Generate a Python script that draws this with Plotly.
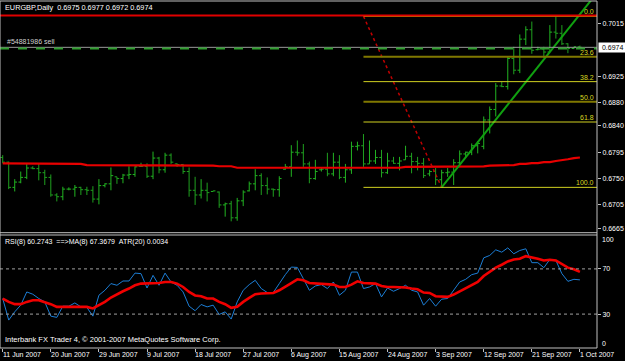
import plotly.graph_objects as go

# ---------------- data ----------------
date_labels = ["11 Jun 2007", "20 Jun 2007", "29 Jun 2007", "9 Jul 2007", "18 Jul 2007",
               "27 Jul 2007", "6 Aug 2007", "15 Aug 2007", "24 Aug 2007", "3 Sep 2007",
               "12 Sep 2007", "21 Sep 2007", "1 Oct 2007"]
date_label_bars = [0, 8, 16, 24, 32, 40, 48, 56, 64, 72, 80, 88, 96]

opens = [0.6786, 0.6778, 0.6735, 0.6744, 0.6752, 0.6768, 0.6767, 0.6760, 0.6752, 0.6722,
         0.6719, 0.6732, 0.6732, 0.6735, 0.6731, 0.6730, 0.6715, 0.6738, 0.6741, 0.6753,
         0.6750, 0.6756, 0.6757, 0.6771, 0.6771, 0.6754, 0.6785, 0.6765, 0.6790, 0.6775,
         0.6774, 0.6762, 0.6730, 0.6722, 0.6730, 0.6728, 0.6727, 0.6705, 0.6707, 0.6683,
         0.6712, 0.6729, 0.6741, 0.6755, 0.6738, 0.6732, 0.6731, 0.6766, 0.6770, 0.6795,
         0.6794, 0.6775, 0.6750, 0.6765, 0.6766, 0.6758, 0.6778, 0.6752, 0.6765, 0.6805,
         0.6806, 0.6775, 0.6780, 0.6786, 0.6760, 0.6780, 0.6776, 0.6782, 0.6788, 0.6779,
         0.6776, 0.6758, 0.6762, 0.6748, 0.6760, 0.6761, 0.6777, 0.6792, 0.6795, 0.6806,
         0.6805, 0.6850, 0.6868, 0.6908, 0.6907, 0.6955, 0.6935, 0.6988, 0.7004, 0.6970,
         0.6971, 0.6966, 0.7000, 0.6998, 0.6980, 0.6972, 0.6975]
highs = [0.6790, 0.6779, 0.6749, 0.6762, 0.6775, 0.6771, 0.6775, 0.6765, 0.6757, 0.6725,
         0.6736, 0.6735, 0.6739, 0.6736, 0.6736, 0.6737, 0.6749, 0.6742, 0.6769, 0.6753,
         0.6758, 0.6771, 0.6771, 0.6777, 0.6776, 0.6796, 0.6787, 0.6794, 0.6793, 0.6776,
         0.6775, 0.6769, 0.6753, 0.6749, 0.6743, 0.6729, 0.6728, 0.6709, 0.6712, 0.6717,
         0.6730, 0.6745, 0.6766, 0.6759, 0.6752, 0.6733, 0.6754, 0.6775, 0.6807, 0.6815,
         0.6809, 0.6779, 0.6782, 0.6768, 0.6794, 0.6794, 0.6790, 0.6775, 0.6813, 0.6813,
         0.6826, 0.6815, 0.6799, 0.6799, 0.6794, 0.6787, 0.6787, 0.6806, 0.6794, 0.6787,
         0.6785, 0.6765, 0.6768, 0.6765, 0.6768, 0.6783, 0.6798, 0.6796, 0.6810, 0.6814,
         0.6856, 0.6873, 0.6913, 0.6915, 0.6959, 0.6975, 0.6996, 0.7010, 0.7018, 0.6975,
         0.6975, 0.7012, 0.7026, 0.7012, 0.6981, 0.6975, 0.6977]
lows = [0.6776, 0.6732, 0.6728, 0.6742, 0.6749, 0.6766, 0.6747, 0.6739, 0.6719, 0.6711,
        0.6713, 0.6730, 0.6719, 0.6722, 0.6722, 0.6709, 0.6706, 0.6735, 0.6730, 0.6741,
        0.6742, 0.6749, 0.6753, 0.6770, 0.6751, 0.6749, 0.6759, 0.6760, 0.6775, 0.6770,
        0.6758, 0.6719, 0.6705, 0.6716, 0.6711, 0.6728, 0.6700, 0.6685, 0.6677, 0.6678,
        0.6703, 0.6728, 0.6730, 0.6722, 0.6723, 0.6719, 0.6719, 0.6765, 0.6753, 0.6789,
        0.6770, 0.6742, 0.6748, 0.6762, 0.6754, 0.6754, 0.6749, 0.6743, 0.6758, 0.6798,
        0.6770, 0.6775, 0.6775, 0.6752, 0.6758, 0.6775, 0.6764, 0.6782, 0.6759, 0.6764,
        0.6751, 0.6754, 0.6739, 0.6735, 0.6753, 0.6739, 0.6770, 0.6785, 0.6790, 0.6793,
        0.6800, 0.6827, 0.6856, 0.6906, 0.6902, 0.6928, 0.6930, 0.6978, 0.6963, 0.6969,
        0.6956, 0.6966, 0.6989, 0.6978, 0.6964, 0.6971, 0.6972]
closes = [0.6778, 0.6735, 0.6744, 0.6752, 0.6768, 0.6767, 0.6760, 0.6752, 0.6722, 0.6719,
          0.6732, 0.6732, 0.6735, 0.6731, 0.6730, 0.6715, 0.6738, 0.6741, 0.6755, 0.6750,
          0.6756, 0.6757, 0.6770, 0.6771, 0.6754, 0.6785, 0.6765, 0.6790, 0.6778, 0.6774,
          0.6762, 0.6730, 0.6722, 0.6730, 0.6726, 0.6729, 0.6705, 0.6707, 0.6683, 0.6712,
          0.6727, 0.6741, 0.6755, 0.6738, 0.6732, 0.6731, 0.6750, 0.6770, 0.6795, 0.6794,
          0.6775, 0.6750, 0.6762, 0.6766, 0.6758, 0.6778, 0.6752, 0.6765, 0.6805, 0.6806,
          0.6775, 0.6780, 0.6786, 0.6760, 0.6780, 0.6776, 0.6780, 0.6788, 0.6779, 0.6776,
          0.6755, 0.6762, 0.6748, 0.6760, 0.6761, 0.6777, 0.6792, 0.6795, 0.6806, 0.6810,
          0.6850, 0.6868, 0.6908, 0.6907, 0.6955, 0.6935, 0.6988, 0.7004, 0.6969, 0.6971,
          0.6966, 0.7000, 0.6998, 0.6980, 0.6972, 0.6975, 0.6974]

price_ma = [0.6776, 0.6776, 0.6776, 0.6776, 0.6776, 0.6776, 0.6776, 0.6776, 0.6776, 0.6775,
            0.6775, 0.6775, 0.6775, 0.6775, 0.6773, 0.6773, 0.6773, 0.6773, 0.6773, 0.6773,
            0.6773, 0.6773, 0.6773, 0.6773, 0.6773, 0.6773, 0.6773, 0.6773, 0.6773, 0.6773,
            0.6773, 0.6772, 0.6772, 0.6772, 0.6772, 0.6772, 0.6771, 0.6771, 0.6771, 0.67685,
            0.67685, 0.67685, 0.67685, 0.67685, 0.67685, 0.67685, 0.67685, 0.67685, 0.67685, 0.67685,
            0.67685, 0.67685, 0.67685, 0.67685, 0.67685, 0.67685, 0.67685, 0.67685, 0.67685, 0.67685,
            0.67685, 0.67685, 0.67685, 0.67685, 0.67685, 0.67685, 0.67685, 0.6770, 0.6770, 0.6770,
            0.6770, 0.6770, 0.6770, 0.67707, 0.67707, 0.67707, 0.67707, 0.67707, 0.67707, 0.67707,
            0.67707, 0.6772, 0.6772, 0.6773, 0.6773, 0.6773, 0.6775, 0.6775, 0.67765, 0.67765,
            0.6778, 0.6778, 0.6780, 0.6781, 0.6783, 0.6785, 0.6786]

rsi = [43.8, 24.7, 32.0, 37.9, 49.6, 47.6, 43.8, 40.8, 28.2, 27.1,
       37.0, 37.0, 39.9, 36.4, 35.9, 28.2, 46.7, 51.1, 57.0, 55.5,
       59.3, 59.3, 66.3, 65.8, 53.1, 64.3, 55.5, 66.3, 58.4, 55.5,
       49.6, 37.0, 33.0, 38.5, 36.4, 37.9, 29.7, 32.0, 25.6, 40.8,
       51.1, 56.1, 59.9, 52.6, 49.1, 49.1, 57.0, 64.9, 71.6, 71.3,
       61.4, 51.1, 54.9, 56.1, 52.6, 58.4, 46.7, 51.1, 67.2, 67.2,
       52.6, 54.0, 57.0, 45.2, 53.1, 50.2, 52.6, 55.5, 51.1, 49.6,
       37.9, 43.8, 37.0, 43.2, 43.8, 51.1, 58.4, 60.8, 64.9, 66.3,
       79.8, 81.9, 86.9, 84.8, 88.6, 83.4, 86.3, 87.8, 75.5, 75.5,
       71.1, 78.4, 77.5, 65.8, 59.0, 60.8, 60.27]
rsi_ma = [43.8, 40.8, 38.8, 38.8, 40.8, 42.3, 42.3, 40.8, 38.8, 36.4,
          36.4, 36.4, 37.0, 37.0, 36.4, 35.0, 37.9, 40.8, 44.7, 47.6,
          50.2, 52.6, 55.5, 57.0, 57.0, 57.5, 57.5, 58.4, 58.4, 57.0,
          54.0, 49.6, 46.5, 45.8, 43.8, 43.8, 40.8, 38.8, 35.5, 36.4,
          40.8, 44.3, 47.6, 48.2, 48.7, 48.7, 51.1, 54.0, 57.5, 60.8,
          59.9, 57.5, 57.0, 57.0, 56.1, 56.1, 54.0, 54.0, 56.1, 59.0,
          57.5, 57.0, 57.0, 54.9, 54.0, 54.0, 54.0, 53.5, 52.6, 52.0,
          49.1, 48.7, 45.8, 45.2, 45.2, 47.3, 50.2, 53.1, 55.5, 58.4,
          63.7, 67.8, 71.1, 73.7, 76.6, 78.4, 79.0, 81.3, 80.4, 79.0,
          77.5, 78.1, 77.5, 74.6, 71.1, 69.6, 67.37]

price_ticks = [0.7015, 0.6925, 0.6880, 0.6840, 0.6795, 0.6750, 0.6705, 0.6665]
bid_price = 0.6974
order_price = 0.6972
hline_price = 0.70285
fib_top, fib_bottom = 0.7027, 0.6735
fib_top_bar, fib_bottom_bar = 60, 73
fib_ratios = [0.0, 23.6, 38.2, 50.0, 61.8, 100.0]
trend_bars = [73, 99]
trend_prices = [0.6735, 0.7069]
rsi_levels = [70, 30]

title_text = "EURGBP,Daily\u00a0\u00a00.6975 0.6977 0.6972 0.6974"
rsi_text = "RSI(8) 60.2743\u00a0\u00a0==>MA(8) 67.3679\u00a0\u00a0ATR(20) 0.0034"
copy_text = "Interbank FX Trader 4, \u00a9 2001-2007 MetaQuotes Software Corp."
order_text = "#54881986 sell"

# ---------------- geometry ----------------
W, H = 625, 361
ML, MR, MT, MB = 0, 28, 1, 13
PW = W - ML - MR
PH = H - MT - MB


def px(x):
    return (x - ML) / PW


def py(y):
    return (H - MB - y) / PH


X_RANGE = [-0.45, 98.84]
P_RANGE = [0.66576, 0.70531]
bars = list(range(len(closes)))

FONT = "Liberation Sans"
FS = 7
GRAY = "#C0C0C0"
WHITE = "#FFFFFF"

fig = go.Figure()

fig.add_trace(go.Ohlc(
    x=bars, open=opens, high=highs, low=lows, close=closes,
    increasing=dict(line=dict(color="#22B422", width=1)),
    decreasing=dict(line=dict(color="#1FA01F", width=1)),
    tickwidth=0.38, xaxis="x", yaxis="y", hoverinfo="skip", showlegend=False))

fig.add_trace(go.Scatter(x=bars, y=price_ma, mode="lines",
                         line=dict(color="#E80000", width=2.2),
                         xaxis="x", yaxis="y", hoverinfo="skip", showlegend=False))

# fibonacci diagonal (dotted red)
fig.add_trace(go.Scatter(x=[fib_top_bar, fib_bottom_bar], y=[fib_top, fib_bottom], mode="lines",
                         line=dict(color="#C00000", width=1.5, dash="dot"),
                         xaxis="x", yaxis="y", hoverinfo="skip", showlegend=False))
# green trend line
fig.add_trace(go.Scatter(x=trend_bars, y=trend_prices, mode="lines",
                         line=dict(color="#10A010", width=2),
                         xaxis="x", yaxis="y", hoverinfo="skip", showlegend=False))

# RSI panel
fig.add_trace(go.Scatter(x=bars, y=rsi, mode="lines",
                         line=dict(color="#1C7ED6", width=1),
                         xaxis="x2", yaxis="y2", hoverinfo="skip", showlegend=False))
fig.add_trace(go.Scatter(x=bars, y=rsi_ma, mode="lines",
                         line=dict(color="#F00000", width=2.6),
                         xaxis="x2", yaxis="y2", hoverinfo="skip", showlegend=False))

shapes = []
# fibonacci levels
fib_colors = {0.0: "#C8C800", 23.6: "#807800", 38.2: "#D0D020", 50.0: "#807800",
              61.8: "#D0D020", 100.0: "#D0D020"}
fib_widths = {0.0: 1, 23.6: 2, 38.2: 1, 50.0: 2, 61.8: 1, 100.0: 1}
annotations = []
for r in fib_ratios:
    lv = fib_top - (fib_top - fib_bottom) * r / 100.0
    shapes.append(dict(type="line", xref="x", yref="y", x0=fib_top_bar, x1=X_RANGE[1],
                       y0=lv, y1=lv, line=dict(color=fib_colors[r], width=fib_widths[r])))
    annotations.append(dict(text=f"{r:.1f}", xref="paper", yref="y", x=px(595), y=lv,
                            xanchor="right", yanchor="bottom", showarrow=False, borderpad=0,
                            font=dict(family=FONT, size=FS, color="#D8D820")))

# horizontal red line
shapes.append(dict(type="line", xref="paper", yref="y", x0=0, x1=1, y0=hline_price, y1=hline_price,
                   line=dict(color="#E00000", width=2)))
# bid line and order line
shapes.append(dict(type="line", xref="paper", yref="y", x0=0, x1=1, y0=bid_price, y1=bid_price,
                   line=dict(color="#9A9A9A", width=1)))
shapes.append(dict(type="line", xref="paper", yref="y", x0=0, x1=1, y0=order_price, y1=order_price,
                   line=dict(color="#2E9E2E", width=2, dash="dash")))
# RSI levels
for lv in rsi_levels:
    shapes.append(dict(type="line", xref="paper", yref="y2", x0=0, x1=1, y0=lv, y1=lv,
                       line=dict(color="#A0A0A0", width=1, dash="dot")))

# frame lines
frame = dict(color=GRAY, width=1)
shapes += [
    dict(type="line", xref="paper", yref="paper", x0=1, x1=1, y0=0, y1=1, line=frame),
    dict(type="line", xref="paper", yref="paper", x0=0, x1=0, y0=0, y1=1, line=frame),
    dict(type="line", xref="paper", yref="paper", x0=0, x1=1, y0=1, y1=1, line=frame),
    dict(type="line", xref="paper", yref="paper", x0=0, x1=1, y0=py(232.7), y1=py(232.7), line=frame),
    dict(type="line", xref="paper", yref="paper", x0=0, x1=1, y0=py(235), y1=py(235), line=frame),
    dict(type="line", xref="paper", yref="paper", x0=0, x1=1, y0=0, y1=0, line=frame),
]

# texts
def label(text, x, y, color=WHITE, xanchor="left", size=FS, **kw):
    d = dict(text=text, xref="paper", yref="paper", x=x, y=y, xanchor=xanchor, yanchor="middle",
             showarrow=False, borderpad=0, font=dict(family=FONT, size=size, color=color))
    d.update(kw)
    return d

annotations.append(label(title_text, px(4), py(7.5), size=7.3))
annotations.append(label(order_text, px(6), py(42), color="#D0D0D0"))
annotations.append(label(rsi_text, px(4), py(242.3)))
annotations.append(label(copy_text, px(4), py(339.5), size=7.5))
annotations.append(label("100", px(601), py(239)))
annotations.append(label("0", px(601), py(343.3)))
annotations.append(dict(text="\u00a00.6974\u00a0", xref="paper", yref="y", x=px(597.5), y=bid_price,
                        xanchor="left", yanchor="middle", showarrow=False, bgcolor="#FFFFFF",
                        borderpad=1, font=dict(family=FONT, size=FS, color="#000000")))
for b, t in zip(date_label_bars, date_labels):
    annotations.append(dict(text=t, xref="x2", yref="paper", x=b, y=py(355), xanchor="left",
                            yanchor="middle", showarrow=False, borderpad=0, xshift=-1,
                            font=dict(family=FONT, size=FS, color=WHITE)))

axis_common = dict(showgrid=False, zeroline=False, showline=False)
fig.update_layout(
    width=W, height=H,
    margin=dict(l=ML, r=MR, t=MT, b=MB, pad=0),
    paper_bgcolor="#000000", plot_bgcolor="#000000",
    showlegend=False,
    xaxis=dict(domain=[0, 1], range=X_RANGE, anchor="y", showticklabels=False, ticks="",
               rangeslider=dict(visible=False), **axis_common),
    xaxis2=dict(domain=[0, 1], range=X_RANGE, anchor="y2", matches="x", showticklabels=False,
                tickmode="array", tickvals=date_label_bars, ticks="outside", ticklen=3,
                tickcolor=GRAY, tickwidth=1, **axis_common),
    yaxis=dict(domain=[py(232.7), 1], range=P_RANGE, anchor="x", side="right",
               tickmode="array", tickvals=price_ticks, ticktext=[f"{v:.4f}" for v in price_ticks],
               ticks="outside", ticklen=3, tickcolor=GRAY,
               tickfont=dict(family=FONT, size=FS, color=WHITE), **axis_common),
    yaxis2=dict(domain=[0, py(235)], range=[0, 100], anchor="x2", side="right",
                tickmode="array", tickvals=rsi_levels, ticktext=[str(v) for v in rsi_levels],
                ticks="outside", ticklen=3, tickcolor=GRAY,
                tickfont=dict(family=FONT, size=FS, color=WHITE), **axis_common),
    shapes=shapes,
    annotations=annotations,
)

fig.write_html("out.html")
